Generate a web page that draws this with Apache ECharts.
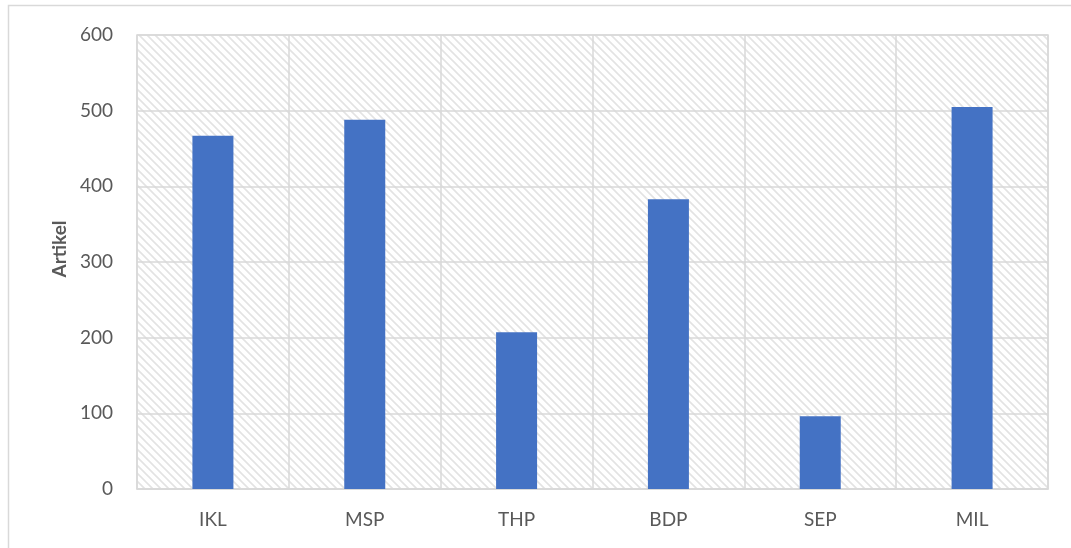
<!DOCTYPE html>
<html>
<head>
<meta charset="utf-8">
<script src="https://cdn.jsdelivr.net/npm/echarts@6/dist/echarts.min.js"></script>
<style>
html,body{margin:0;padding:0;background:#fff;}
#c{width:1071px;height:548px;}
</style>
</head>
<body>
<div id="c"></div>
<script>
const categories = ['IKL', 'MSP', 'THP', 'BDP', 'SEP', 'MIL'];
const values = [467, 488, 207, 383, 96, 505];
const yTicks = [0, 100, 200, 300, 400, 500, 600];
const yAxisTitle = 'Artikel';

// hatch pattern
const pc = document.createElement('canvas');
pc.width = 8; pc.height = 8;
const g = pc.getContext('2d');
g.fillStyle = '#ffffff';
g.fillRect(0, 0, 8, 8);
g.strokeStyle = '#e3e3e3';
g.lineWidth = 1.6;
g.beginPath();
g.moveTo(-1, -1); g.lineTo(9, 9);
g.moveTo(-5, 3); g.lineTo(5, 13);
g.moveTo(3, -5); g.lineTo(13, 5);
g.stroke();

const chart = echarts.init(document.getElementById('c'));
chart.setOption({
  animation: false,
  backgroundColor: '#ffffff',
  graphic: [{
    type: 'rect',
    shape: { x: 8.5, y: 5.5, width: 1200, height: 700 },
    style: { fill: 'none', stroke: '#d9d9d9', lineWidth: 1.5 },
    silent: true, z: -1
  }],
  grid: {
    left: 137, right: 23, top: 35, bottom: 59,
    show: true,
    backgroundColor: { image: pc, repeat: 'repeat' },
    borderColor: '#d9d9d9',
    borderWidth: 1.5
  },
  xAxis: {
    type: 'category',
    data: categories,
    axisLine: { show: true, lineStyle: { color: '#d9d9d9', width: 1.5 } },
    axisTick: { show: false },
    splitLine: { show: true, lineStyle: { color: '#d9d9d9', width: 1.5 } },
    axisLabel: { color: '#595959', fontSize: 19, fontFamily: 'Lato', margin: 21 }
  },
  yAxis: {
    type: 'value',
    min: yTicks[0],
    max: yTicks[yTicks.length - 1],
    interval: yTicks[1] - yTicks[0],
    name: yAxisTitle,
    nameLocation: 'middle',
    nameGap: 68,
    nameTextStyle: { color: '#595959', fontSize: 19, fontWeight: 'bold', fontFamily: 'Lato', padding: [0, 0, 0, 26] },
    axisLine: { show: false },
    axisTick: { show: false },
    splitLine: { show: true, lineStyle: { color: '#d9d9d9', width: 1.5 } },
    axisLabel: { color: '#595959', fontSize: 19, fontFamily: 'Lato', margin: 24 }
  },
  series: [{
    type: 'bar',
    data: values,
    barWidth: 41,
    itemStyle: { color: '#4472C4' }
  }]
});
</script>
</body>
</html>
